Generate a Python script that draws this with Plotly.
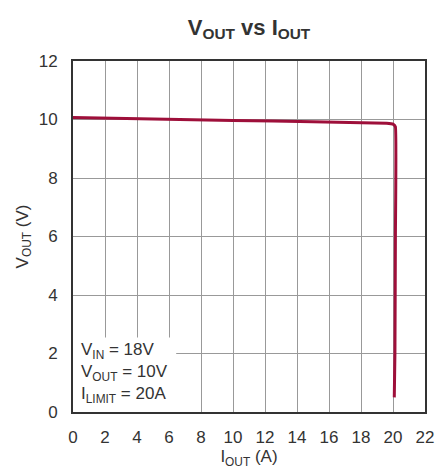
import plotly.graph_objects as go

i_out = [0, 5, 10, 15, 19.6, 20.0, 20.15, 20.15, 20.12, 20.08]
v_out = [10.07, 10.02, 9.97, 9.92, 9.87, 9.84, 9.75, 6.0, 2.0, 0.5]
x_ticks = list(range(0, 23, 2))
y_ticks = list(range(0, 13, 2))
notes = ["V<sub>IN</sub> = 18V", "V<sub>OUT</sub> = 10V", "I<sub>LIMIT</sub> = 20A"]

FONT = "Liberation Sans Narrow, Arial Narrow, Liberation Sans, Arial, sans-serif"

fig = go.Figure()
fig.add_trace(go.Scatter(x=i_out, y=v_out, mode="lines",
                         line=dict(color="#9e0f3a", width=3, shape="spline", smoothing=0.3),
                         hoverinfo="skip", showlegend=False))

# white box behind annotation
fig.add_shape(type="rect", xref="x", yref="y", x0=0, x1=6.45, y0=0, y1=2.55,
              fillcolor="white", line_width=0, layer="between")

fig.add_annotation(xref="x", yref="y", x=0.0, y=2.52, xanchor="left", yanchor="top",
                   xshift=6,
                   text="<br>".join(notes), showarrow=False, align="left",
                   font=dict(family=FONT, size=17, color="#333"))

fig.update_layout(
    width=439, height=469,
    margin=dict(l=73, r=14, t=61, b=57),
    paper_bgcolor="white", plot_bgcolor="white",
    title=dict(text="<b>V<sub>OUT</sub> vs I<sub>OUT</sub></b>", xref="paper", x=0.5, xanchor="center",
               y=1 - 27 / 469, yanchor="middle",
               font=dict(family=FONT, size=22, color="#333")),
    font=dict(family=FONT, size=17, color="#333"),
    xaxis=dict(range=[0, 22], tickvals=x_ticks, showgrid=True, gridcolor="#999", gridwidth=1,
               showline=True, linecolor="#333", linewidth=2, mirror=True, zeroline=False,
               ticks="", ticklen=0, ticklabelstandoff=9, automargin=False,
               title=dict(text="I<sub>OUT</sub> (A)", standoff=3, font=dict(size=17))),
    yaxis=dict(range=[0, 12], tickvals=y_ticks, showgrid=True, gridcolor="#999", gridwidth=1,
               showline=True, linecolor="#333", linewidth=2, mirror=True, zeroline=False,
               ticks="", ticklen=0, ticklabelstandoff=10, automargin=False,
               title=dict(text="V<sub>OUT</sub> (V)", standoff=6, font=dict(size=17))),
)

fig.write_html("out.html", config={"displayModeBar": False},
               post_script="document.body.style.margin='0';document.body.style.padding='0';")
